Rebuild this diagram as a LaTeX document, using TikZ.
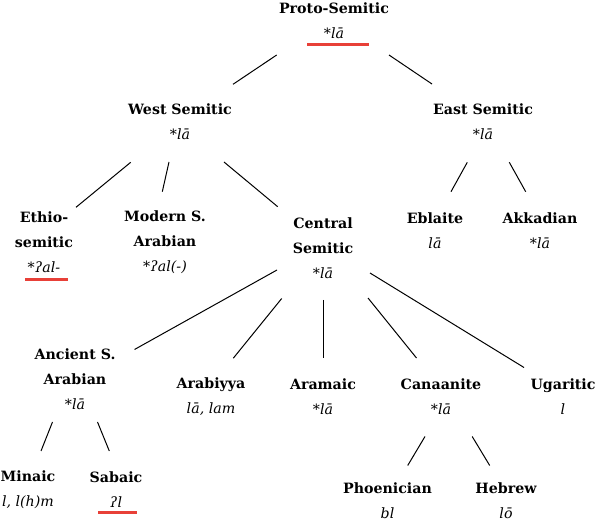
\documentclass[tikz,border=0pt]{standalone}
\usepackage{fontspec}
\setmainfont{DejaVu Serif}
\usepackage{tikz}
\usetikzlibrary{calc}
\usepackage{xcolor}
\definecolor{hired}{RGB}{232,64,56}
\newcommand{\form}[1]{{\normalfont\itshape #1}}

\begin{document}
\begin{tikzpicture}[x=1pt, y=-1pt,
    lang/.style={align=center, inner sep=0pt, font=\fontsize{14.2}{25}\selectfont\bfseries},
    branch/.style={line width=1pt},
    hilite/.style={draw=hired, line width=3pt}]
    \useasboundingbox (0,0) rectangle (595,521);
    % Knoten
    \node[lang] (proto) at (334,21) {Proto-Semitic\\\form{*lā}};
    \node[lang] (west) at (180,122) {West Semitic\\\form{*lā}};
    \node[lang] (east) at (483,122) {East Semitic\\\form{*lā}};
    \node[lang] (ethio) at (44,242.5) {Ethio-\\semitic\\\form{*ʔal-}};
    \node[lang] (modern) at (165,242.5) {Modern S.\\Arabian\\\form{*ʔal(-)}};
    \node[lang] (central) at (323,248.5) {Central\\Semitic\\\form{*lā}};
    \node[lang] (eblaite) at (435,230.5) {Eblaite\\\form{lā}};
    \node[lang] (akkadian) at (540,230.5) {Akkadian\\\form{*lā}};
    \node[lang] (ancient) at (75,379.5) {Ancient S.\\Arabian\\\form{*lā}};
    \node[lang] (arabiyya) at (211,397) {Arabiyya\\\form{lā, lam}};
    \node[lang] (aramaic) at (323,397) {Aramaic\\\form{*lā}};
    \node[lang] (canaanite) at (441,397) {Canaanite\\\form{*lā}};
    \node[lang] (ugaritic) at (563,397) {Ugaritic\\\form{l}};
    \node[lang] (minaic) at (28,489.5) {Minaic\\\form{l, l(h)m}};
    \node[lang] (sabaic) at (116,489.5) {Sabaic\\\form{ʔl}};
    \node[lang] (phoenician) at (387.5,500.5) {Phoenician\\\form{bl}};
    \node[lang] (hebrew) at (506,500.5) {Hebrew\\\form{lō}};
    % Aeste
    \draw[branch] ([shift={(-57.3,34)}]proto.center) -- ([shift={(53,-37.7)}]west.center);
    \draw[branch] ([shift={(55,34)}]proto.center) -- ([shift={(-51,-38)}]east.center);
    \draw[branch] ([shift={(-49.3,40.3)}]west.center) -- ([shift={(32,-35.2)}]ethio.center);
    \draw[branch] ([shift={(-11,40)}]west.center) -- ([shift={(-2.7,-50.8)}]modern.center);
    \draw[branch] ([shift={(44,40)}]west.center) -- ([shift={(-45.3,-41.8)}]central.center);
    \draw[branch] ([shift={(-15.7,40.3)}]east.center) -- ([shift={(16,-38.8)}]eblaite.center);
    \draw[branch] ([shift={(26.3,40.3)}]east.center) -- ([shift={(-14.3,-38.8)}]akkadian.center);
    \draw[branch] ([shift={(-46,21.5)}]central.center) -- ([shift={(59.5,-30)}]ancient.center);
    \draw[branch] ([shift={(-41.3,50)}]central.center) -- ([shift={(22.3,-38.8)}]arabiyya.center);
    \draw[branch] ([shift={(0,51.5)}]central.center) -- ([shift={(0,-39)}]aramaic.center);
    \draw[branch] ([shift={(45,49.5)}]central.center) -- ([shift={(-24.5,-39)}]canaanite.center);
    \draw[branch] ([shift={(47,24.5)}]central.center) -- ([shift={(-39,-29.5)}]ugaritic.center);
    \draw[branch] ([shift={(-22.5,42.5)}]ancient.center) -- ([shift={(13,-38.5)}]minaic.center);
    \draw[branch] ([shift={(22.5,42.5)}]ancient.center) -- ([shift={(-6.7,-38.5)}]sabaic.center);
    \draw[branch] ([shift={(-16,39.5)}]canaanite.center) -- ([shift={(20.2,-35)}]phoenician.center);
    \draw[branch] ([shift={(31.2,39.5)}]canaanite.center) -- ([shift={(-16.3,-35)}]hebrew.center);
    % Unterstreichungen
    \draw[hilite] (307,45) -- (369,45);
    \draw[hilite] (25,280) -- (68,280);
    \draw[hilite] (98,512) -- (137,512);
\end{tikzpicture}
\end{document}
